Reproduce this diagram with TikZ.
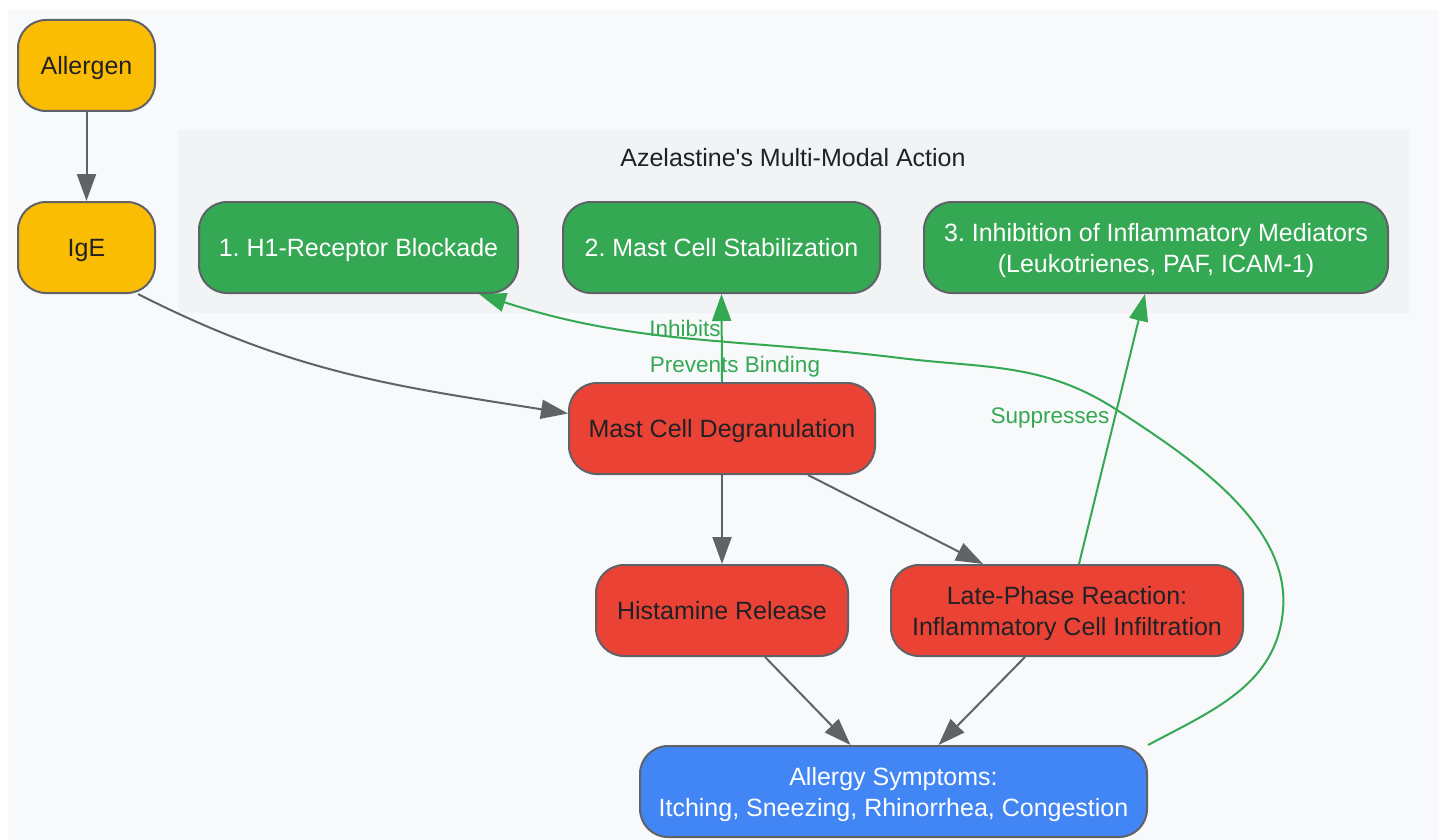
\documentclass[tikz,border=0pt]{standalone}
\usepackage{fontspec}
\setmainfont{Liberation Sans}
\usetikzlibrary{arrows.meta,calc}
\definecolor{bgc}{HTML}{F8F9FA}
\definecolor{clc}{HTML}{F1F3F4}
\definecolor{edgec}{HTML}{5F6368}
\definecolor{txtc}{HTML}{202124}
\definecolor{yel}{HTML}{FBBC04}
\definecolor{grn}{HTML}{34A853}
\definecolor{redc}{HTML}{EA4335}
\definecolor{blu}{HTML}{4285F4}
\frenchspacing
\newcommand{\tb}[1]{\rule{0pt}{25pt}#1\rule[-7pt]{0pt}{7pt}}
\begin{document}
\begin{tikzpicture}[x=1pt,y=-1pt,
  box/.style={draw=edgec, line width=2pt, rounded corners=28pt, minimum height=91pt,
    align=center, inner sep=0pt, font=\fontsize{25}{31}\selectfont},
  yelbox/.style={box, fill=yel, text=txtc},
  grnbox/.style={box, fill=grn, text=white},
  redbox/.style={box, fill=redc, text=txtc},
  blubox/.style={box, fill=blu, text=white},
  flow/.style={draw=edgec, line width=2pt, -{Triangle[length=27pt,width=19pt]}},
  act/.style={draw=grn, line width=2pt, -{Triangle[length=27pt,width=19pt]}},
  lbl/.style={text=grn, font=\fontsize{22.5}{27}\selectfont, inner sep=0pt},
  ttl/.style={text=txtc, font=\fontsize{25}{30}\selectfont, inner sep=0pt}]
\useasboundingbox (0,0) rectangle (1445,840);
\fill[bgc] (8,10) rectangle (1439,840);
\fill[clc] (178,130) rectangle (1409,313);
\node[ttl] (title) at (793,158) {Azelastine\textquotesingle s Multi-Modal Action};

\node[yelbox, minimum width=137pt] (allergen) at (86.5,65.5) {\tb{Allergen}};
\node[yelbox, minimum width=137pt] (ige) at (86.5,247.5) {\tb{IgE}};
\node[grnbox, minimum width=319pt] (h1) at (358.5,247.5) {\tb{1. H1-Receptor Blockade}};
\node[grnbox, minimum width=317pt] (mcs) at (721.5,247.5) {\tb{2. Mast Cell Stabilization}};
\node[grnbox, minimum width=464pt] (inh) at (1156,247.5) {\tb{3. Inhibition of Inflammatory Mediators\\(Leukotrienes, PAF, ICAM-1)}};
\node[redbox, minimum width=306pt] (mcd) at (722,428.5) {\tb{Mast Cell Degranulation}};
\node[redbox, minimum width=252pt] (hist) at (722,610.5) {\tb{Histamine Release}};
\node[redbox, minimum width=352pt] (late) at (1067,610.5) {\tb{Late-Phase Reaction:\\Inflammatory Cell Infiltration}};
\node[blubox, minimum width=507pt] (sym) at (893.5,791.5) {\tb{Allergy Symptoms:\\Itching, Sneezing, Rhinorrhea, Congestion}};

% labels
\node[lbl] (l1) at (685,328) {Inhibits};
\node[lbl] (l2) at (735,367) {Prevents Binding};
\node[lbl] (l3) at (1050,418) {Suppresses};

% gray flow
\draw[flow] (allergen.south) -- (ige.north);
\coordinate (igeout) at ($(ige.south east)+(-18,0)$);
\coordinate (mcdin) at ($(mcd.west)+(0,-15)$);
\draw[flow] (igeout) to[out=-27, in=171] (mcdin);
\draw[flow] (mcd.south) -- (hist.north);
\draw[flow] ($(mcd.south)+(86,0)$) -- ($(late.north)+(-84,0)$);
\draw[flow] ($(hist.south)+(43,0)$) -- ($(sym.north)+(-43,0)$);
\draw[flow] ($(late.south)+(-42,0)$) -- ($(sym.north)+(45,0)$);

% green actions
\draw[act] (mcd.north) -- (mcs.south);
\draw[act] ($(late.north)+(12,0)$) -- ($(inh.south)+(-11,0)$);
\coordinate (w2) at (1283,610);
\coordinate (w5) at (1117,410);
\coordinate (w7) at (900,358);
\coordinate (h1in) at ($(h1.south east)+(-40,0)$);
\draw[act] (sym.north east) to[out=28, in=-95] (w2)
  to[out=85, in=-33, looseness=0.85] (w5)
  to[out=147, in=-7] (w7)
  to[out=173, in=-18] (h1in);
\end{tikzpicture}
\end{document}
